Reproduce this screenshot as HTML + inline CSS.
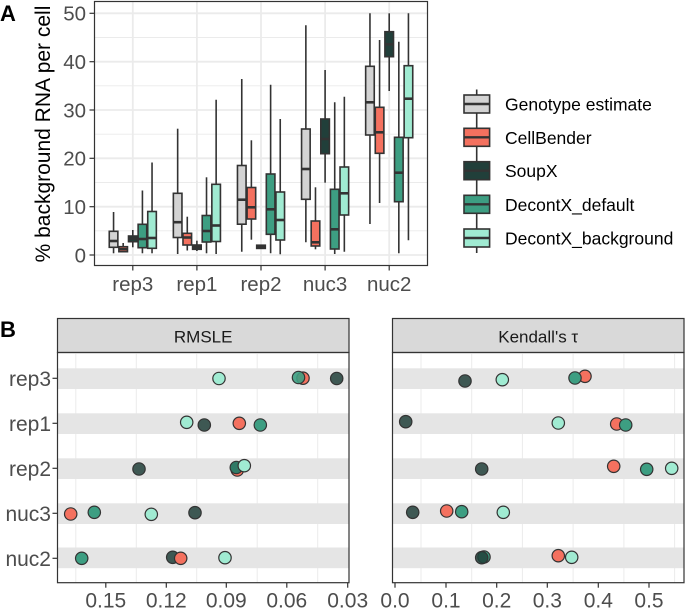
<!DOCTYPE html>
<html><head><meta charset="utf-8"><style>
html,body{margin:0;padding:0;background:#fff;}
svg{display:block;font-family:"Liberation Sans",Arial,sans-serif;}
</style></head><body>
<svg width="685" height="609" viewBox="0 0 685 609" xmlns="http://www.w3.org/2000/svg">
<rect width="685" height="609" fill="#fff"/>
<!-- Panel A -->
<text x="0" y="21" font-size="22" font-weight="bold" fill="#000">A</text>
<text transform="translate(50,134) rotate(-90)" text-anchor="middle" font-size="21" fill="#000">% background RNA per cell</text>
<g stroke="#ebebeb">
<line x1="94.5" x2="427.5" y1="230.8" y2="230.8" stroke-width="0.9"/>
<line x1="94.5" x2="427.5" y1="182.5" y2="182.5" stroke-width="0.9"/>
<line x1="94.5" x2="427.5" y1="134.2" y2="134.2" stroke-width="0.9"/>
<line x1="94.5" x2="427.5" y1="85.8" y2="85.8" stroke-width="0.9"/>
<line x1="94.5" x2="427.5" y1="37.5" y2="37.5" stroke-width="0.9"/>
<line x1="94.5" x2="427.5" y1="255" y2="255" stroke-width="1.8"/>
<line x1="94.5" x2="427.5" y1="206.7" y2="206.7" stroke-width="1.8"/>
<line x1="94.5" x2="427.5" y1="158.3" y2="158.3" stroke-width="1.8"/>
<line x1="94.5" x2="427.5" y1="110" y2="110" stroke-width="1.8"/>
<line x1="94.5" x2="427.5" y1="61.7" y2="61.7" stroke-width="1.8"/>
<line x1="94.5" x2="427.5" y1="13.3" y2="13.3" stroke-width="1.8"/>
<line y1="1.5" y2="265.5" x1="132.8" x2="132.8" stroke-width="1.8"/>
<line y1="1.5" y2="265.5" x1="196.9" x2="196.9" stroke-width="1.8"/>
<line y1="1.5" y2="265.5" x1="261" x2="261" stroke-width="1.8"/>
<line y1="1.5" y2="265.5" x1="325.1" x2="325.1" stroke-width="1.8"/>
<line y1="1.5" y2="265.5" x1="389.2" x2="389.2" stroke-width="1.8"/>
</g>
<g stroke="#333" stroke-width="1.6">
<!-- whiskers -->
<line x1="113.56" x2="113.56" y1="212" y2="253.3"/>
<line x1="123.18" x2="123.18" y1="243" y2="252.5"/>
<line x1="132.8" x2="132.8" y1="230" y2="247.3"/>
<line x1="142.42" x2="142.42" y1="190.5" y2="253.3"/>
<line x1="152.04" x2="152.04" y1="162.5" y2="253.3"/>
<line x1="177.66" x2="177.66" y1="128.7" y2="254"/>
<line x1="187.28" x2="187.28" y1="216.7" y2="250.5"/>
<line x1="196.9" x2="196.9" y1="240.7" y2="251"/>
<line x1="206.52" x2="206.52" y1="177.3" y2="253.3"/>
<line x1="216.14" x2="216.14" y1="99.7" y2="254"/>
<line x1="241.76" x2="241.76" y1="79" y2="251.7"/>
<line x1="251.38" x2="251.38" y1="140.3" y2="239.7"/>
<line x1="261" x2="261" y1="244.6" y2="249"/>
<line x1="270.62" x2="270.62" y1="84.7" y2="253.3"/>
<line x1="280.24" x2="280.24" y1="119" y2="254.3"/>
<line x1="305.86" x2="305.86" y1="25.3" y2="242.3"/>
<line x1="315.48" x2="315.48" y1="187.3" y2="249.3"/>
<line x1="325.1" x2="325.1" y1="70" y2="182.7"/>
<line x1="334.72" x2="334.72" y1="102.3" y2="254"/>
<line x1="344.34" x2="344.34" y1="96.7" y2="251.7"/>
<line x1="369.96" x2="369.96" y1="13.3" y2="224"/>
<line x1="379.58" x2="379.58" y1="40" y2="203"/>
<line x1="389.2" x2="389.2" y1="13.3" y2="91"/>
<line x1="398.82" x2="398.82" y1="41.7" y2="253.3"/>
<line x1="408.44" x2="408.44" y1="13.3" y2="240.3"/>
<!-- boxes -->
<rect x="109.26" y="231.3" width="8.6" height="16" fill="#d3d3d3"/>
<rect x="118.88" y="246.7" width="8.6" height="5" fill="#f4715f"/>
<rect x="128.5" y="236" width="8.6" height="5.7" fill="#213f3a"/>
<rect x="138.12" y="224.3" width="8.6" height="23.4" fill="#3d9e82"/>
<rect x="147.74" y="211.5" width="8.6" height="36.8" fill="#a0ebd2"/>
<rect x="173.36" y="193.3" width="8.6" height="44.2" fill="#d3d3d3"/>
<rect x="182.98" y="233.3" width="8.6" height="11.7" fill="#f4715f"/>
<rect x="192.6" y="245" width="8.6" height="4.3" fill="#213f3a"/>
<rect x="202.22" y="215.5" width="8.6" height="26.5" fill="#3d9e82"/>
<rect x="211.84" y="184.3" width="8.6" height="57.2" fill="#a0ebd2"/>
<rect x="237.46" y="165.5" width="8.6" height="58.7" fill="#d3d3d3"/>
<rect x="247.08" y="187.5" width="8.6" height="31.5" fill="#f4715f"/>
<rect x="256.7" y="245.2" width="8.6" height="3.2" fill="#213f3a"/>
<rect x="266.32" y="174" width="8.6" height="60.3" fill="#3d9e82"/>
<rect x="275.94" y="192" width="8.6" height="48" fill="#a0ebd2"/>
<rect x="301.56" y="129" width="8.6" height="70.3" fill="#d3d3d3"/>
<rect x="311.18" y="221" width="8.6" height="25" fill="#f4715f"/>
<rect x="320.8" y="119" width="8.6" height="34.7" fill="#213f3a"/>
<rect x="330.42" y="189.3" width="8.6" height="59.7" fill="#3d9e82"/>
<rect x="340.04" y="167" width="8.6" height="48" fill="#a0ebd2"/>
<rect x="365.66" y="66.3" width="8.6" height="68.7" fill="#d3d3d3"/>
<rect x="375.28" y="107.3" width="8.6" height="46" fill="#f4715f"/>
<rect x="384.9" y="31.7" width="8.6" height="25" fill="#213f3a"/>
<rect x="394.52" y="137.3" width="8.6" height="64.4" fill="#3d9e82"/>
<rect x="404.14" y="65.7" width="8.6" height="72" fill="#a0ebd2"/>
</g>
<g stroke="#333" stroke-width="2.6">
<line x1="109.26" x2="117.86" y1="241" y2="241"/>
<line x1="118.88" x2="127.48" y1="249.2" y2="249.2"/>
<line x1="128.5" x2="137.1" y1="238.5" y2="238.5"/>
<line x1="138.12" x2="146.72" y1="239" y2="239"/>
<line x1="147.74" x2="156.34" y1="238" y2="238"/>
<line x1="173.36" x2="181.96" y1="222.2" y2="222.2"/>
<line x1="182.98" x2="191.58" y1="237.5" y2="237.5"/>
<line x1="192.6" x2="201.2" y1="247" y2="247"/>
<line x1="202.22" x2="210.82" y1="231" y2="231"/>
<line x1="211.84" x2="220.44" y1="225.5" y2="225.5"/>
<line x1="237.46" x2="246.06" y1="199.7" y2="199.7"/>
<line x1="247.08" x2="255.68" y1="207.3" y2="207.3"/>
<line x1="256.7" x2="265.3" y1="246.8" y2="246.8"/>
<line x1="266.32" x2="274.92" y1="209.3" y2="209.3"/>
<line x1="275.94" x2="284.54" y1="220" y2="220"/>
<line x1="301.56" x2="310.16" y1="169" y2="169"/>
<line x1="311.18" x2="319.78" y1="242.3" y2="242.3"/>
<line x1="320.8" x2="329.4" y1="139" y2="139"/>
<line x1="330.42" x2="339.02" y1="229.3" y2="229.3"/>
<line x1="340.04" x2="348.64" y1="193.3" y2="193.3"/>
<line x1="365.66" x2="374.26" y1="102.3" y2="102.3"/>
<line x1="375.28" x2="383.88" y1="132.3" y2="132.3"/>
<line x1="384.9" x2="393.5" y1="44.3" y2="44.3"/>
<line x1="394.52" x2="403.12" y1="172.7" y2="172.7"/>
<line x1="404.14" x2="412.74" y1="98.7" y2="98.7"/>
</g>
<rect x="94.5" y="1.5" width="333" height="264" fill="none" stroke="#333" stroke-width="1.2"/>
<g stroke="#333" stroke-width="1.2">
<line x1="89.5" x2="94.5" y1="255" y2="255"/>
<line x1="89.5" x2="94.5" y1="206.7" y2="206.7"/>
<line x1="89.5" x2="94.5" y1="158.3" y2="158.3"/>
<line x1="89.5" x2="94.5" y1="110" y2="110"/>
<line x1="89.5" x2="94.5" y1="61.7" y2="61.7"/>
<line x1="89.5" x2="94.5" y1="13.3" y2="13.3"/>
<line y1="265.5" y2="270.5" x1="132.8" x2="132.8"/>
<line y1="265.5" y2="270.5" x1="196.9" x2="196.9"/>
<line y1="265.5" y2="270.5" x1="261" x2="261"/>
<line y1="265.5" y2="270.5" x1="325.1" x2="325.1"/>
<line y1="265.5" y2="270.5" x1="389.2" x2="389.2"/>
</g>
<g font-size="20.5" fill="#4d4d4d" text-anchor="end">
<text x="86" y="262.3">0</text>
<text x="86" y="214">10</text>
<text x="86" y="165.6">20</text>
<text x="86" y="117.3">30</text>
<text x="86" y="69">40</text>
<text x="86" y="20.6">50</text>
</g>
<g font-size="20.5" fill="#4d4d4d" text-anchor="middle">
<text x="132.8" y="291">rep3</text>
<text x="196.9" y="291">rep1</text>
<text x="261" y="291">rep2</text>
<text x="325.1" y="291">nuc3</text>
<text x="389.2" y="291">nuc2</text>
</g>
<!-- Legend -->
<line x1="476.7" x2="476.7" y1="89.5" y2="253" stroke="#333" stroke-width="1.6"/>
<g stroke="#333" stroke-width="1.6">
<rect x="464" y="95" width="25.6" height="18" fill="#d3d3d3"/>
<rect x="464" y="128.3" width="25.6" height="18" fill="#f4715f"/>
<rect x="464" y="161.7" width="25.6" height="18" fill="#213f3a"/>
<rect x="464" y="195.3" width="25.6" height="18" fill="#3d9e82"/>
<rect x="464" y="229" width="25.6" height="18" fill="#a0ebd2"/>
</g>
<g stroke="#333" stroke-width="2.4">
<line x1="464" x2="489.6" y1="104" y2="104"/>
<line x1="464" x2="489.6" y1="137.3" y2="137.3"/>
<line x1="464" x2="489.6" y1="170.7" y2="170.7"/>
<line x1="464" x2="489.6" y1="204.3" y2="204.3"/>
<line x1="464" x2="489.6" y1="238" y2="238"/>
</g>
<g font-size="17.5" fill="#000">
<text x="505" y="110.5">Genotype estimate</text>
<text x="505" y="143.8">CellBender</text>
<text x="505" y="177.2">SoupX</text>
<text x="505" y="210.8">DecontX_default</text>
<text x="505" y="244.5">DecontX_background</text>
</g>

<!-- Panel B -->
<text x="0" y="337" font-size="22" font-weight="bold" fill="#000">B</text>
<!-- strips -->
<rect x="57.5" y="318.5" width="291.5" height="34" fill="#d9d9d9" stroke="#333" stroke-width="1.2"/>
<rect x="392.5" y="318.5" width="291.5" height="34" fill="#d9d9d9" stroke="#333" stroke-width="1.2"/>
<text x="203.2" y="342.3" font-size="17" fill="#1a1a1a" text-anchor="middle">RMSLE</text>
<text x="538.2" y="342.3" font-size="17" fill="#1a1a1a" text-anchor="middle">Kendall's τ</text>
<!-- grid -->
<g stroke="#ebebeb" stroke-width="1">
<line y1="352.5" y2="582.7" x1="75.8" x2="75.8"/>
<line y1="352.5" y2="582.7" x1="136.3" x2="136.3"/>
<line y1="352.5" y2="582.7" x1="196.7" x2="196.7"/>
<line y1="352.5" y2="582.7" x1="257.2" x2="257.2"/>
<line y1="352.5" y2="582.7" x1="317.7" x2="317.7"/>
<line y1="352.5" y2="582.7" x1="421" x2="421"/>
<line y1="352.5" y2="582.7" x1="471.7" x2="471.7"/>
<line y1="352.5" y2="582.7" x1="522.4" x2="522.4"/>
<line y1="352.5" y2="582.7" x1="573.1" x2="573.1"/>
<line y1="352.5" y2="582.7" x1="623.9" x2="623.9"/>
<line y1="352.5" y2="582.7" x1="674.6" x2="674.6"/>
</g>
<!-- bands -->
<g fill="#e5e5e5">
<rect x="57.5" width="291.5" y="368.3" height="20.7"/>
<rect x="57.5" width="291.5" y="413.3" height="20.7"/>
<rect x="57.5" width="291.5" y="458.3" height="20.7"/>
<rect x="57.5" width="291.5" y="503.3" height="20.7"/>
<rect x="57.5" width="291.5" y="547.5" height="20.7"/>
<rect x="392.5" width="291.5" y="368.3" height="20.7"/>
<rect x="392.5" width="291.5" y="413.3" height="20.7"/>
<rect x="392.5" width="291.5" y="458.3" height="20.7"/>
<rect x="392.5" width="291.5" y="503.3" height="20.7"/>
<rect x="392.5" width="291.5" y="547.5" height="20.7"/>
</g>
<!-- points left -->
<g stroke="#333" stroke-width="1.2">
<circle cx="303" cy="378.2" r="6.2" fill="#f4715f"/>
<circle cx="336.7" cy="378.5" r="6.2" fill="#213f3a" fill-opacity="0.85"/>
<circle cx="298.5" cy="377.5" r="6.2" fill="#3d9e82" fill-opacity="0.9"/>
<circle cx="219" cy="378.5" r="6.2" fill="#a0ebd2"/>

<circle cx="239.3" cy="423.3" r="6.2" fill="#f4715f"/>
<circle cx="204.3" cy="425" r="6.2" fill="#213f3a" fill-opacity="0.85"/>
<circle cx="260.3" cy="425" r="6.2" fill="#3d9e82"/>
<circle cx="186.7" cy="422.3" r="6.2" fill="#a0ebd2"/>

<circle cx="237.3" cy="470" r="6.2" fill="#f4715f"/>
<circle cx="139" cy="469" r="6.2" fill="#213f3a" fill-opacity="0.85"/>
<circle cx="236.3" cy="467.5" r="6.2" fill="#2f7a66"/>
<circle cx="244.3" cy="465.7" r="6.2" fill="#a0ebd2"/>

<circle cx="70.7" cy="514" r="6.2" fill="#f4715f"/>
<circle cx="195" cy="512.7" r="6.2" fill="#213f3a" fill-opacity="0.85"/>
<circle cx="94.3" cy="512.3" r="6.2" fill="#3d9e82"/>
<circle cx="151.3" cy="514.3" r="6.2" fill="#a0ebd2"/>

<circle cx="172.7" cy="557.3" r="6.2" fill="#213f3a" fill-opacity="0.85"/>
<circle cx="180.7" cy="558.3" r="6.2" fill="#f4715f"/>
<circle cx="81.7" cy="558.3" r="6.2" fill="#3d9e82"/>
<circle cx="225" cy="557.7" r="6.2" fill="#a0ebd2"/>
</g>
<!-- points right -->
<g stroke="#333" stroke-width="1.2">
<circle cx="585" cy="376.3" r="6.2" fill="#f4715f"/>
<circle cx="465" cy="381" r="6.2" fill="#213f3a" fill-opacity="0.85"/>
<circle cx="575" cy="378" r="6.2" fill="#3d9e82"/>
<circle cx="502.3" cy="379.7" r="6.2" fill="#a0ebd2"/>

<circle cx="616.7" cy="424" r="6.2" fill="#f4715f"/>
<circle cx="405.7" cy="421.7" r="6.2" fill="#213f3a" fill-opacity="0.85"/>
<circle cx="625.7" cy="425" r="6.2" fill="#3d9e82"/>
<circle cx="558.3" cy="423" r="6.2" fill="#a0ebd2"/>

<circle cx="613.7" cy="466.3" r="6.2" fill="#f4715f"/>
<circle cx="481.7" cy="469" r="6.2" fill="#213f3a" fill-opacity="0.85"/>
<circle cx="646.7" cy="469.3" r="6.2" fill="#3d9e82"/>
<circle cx="671.7" cy="468.3" r="6.2" fill="#a0ebd2"/>

<circle cx="446.7" cy="511" r="6.2" fill="#f4715f"/>
<circle cx="412.7" cy="512.3" r="6.2" fill="#213f3a" fill-opacity="0.85"/>
<circle cx="461.7" cy="511.7" r="6.2" fill="#3d9e82"/>
<circle cx="503.3" cy="512.3" r="6.2" fill="#a0ebd2"/>

<circle cx="484" cy="557" r="6.2" fill="#3d9e82"/>
<circle cx="481.7" cy="557.7" r="6.2" fill="#213f3a" fill-opacity="0.85"/>
<circle cx="558.3" cy="555.7" r="6.2" fill="#f4715f"/>
<circle cx="571.7" cy="557.3" r="6.2" fill="#a0ebd2"/>
</g>
<!-- panel borders -->
<rect x="57.5" y="352.5" width="291.5" height="230.2" fill="none" stroke="#333" stroke-width="1.2"/>
<rect x="392.5" y="352.5" width="291.5" height="230.2" fill="none" stroke="#333" stroke-width="1.2"/>
<!-- ticks -->
<g stroke="#333" stroke-width="1.2">
<line x1="52.5" x2="57.5" y1="378.3" y2="378.3"/>
<line x1="52.5" x2="57.5" y1="423.3" y2="423.3"/>
<line x1="52.5" x2="57.5" y1="468.3" y2="468.3"/>
<line x1="52.5" x2="57.5" y1="513.3" y2="513.3"/>
<line x1="52.5" x2="57.5" y1="558.3" y2="558.3"/>
<line y1="582.7" y2="587.7" x1="105.8" x2="105.8"/>
<line y1="582.7" y2="587.7" x1="166.3" x2="166.3"/>
<line y1="582.7" y2="587.7" x1="226.3" x2="226.3"/>
<line y1="582.7" y2="587.7" x1="286.8" x2="286.8"/>
<line y1="582.7" y2="587.7" x1="347.7" x2="347.7"/>
<line y1="582.7" y2="587.7" x1="395" x2="395"/>
<line y1="582.7" y2="587.7" x1="446" x2="446"/>
<line y1="582.7" y2="587.7" x1="496.7" x2="496.7"/>
<line y1="582.7" y2="587.7" x1="547.3" x2="547.3"/>
<line y1="582.7" y2="587.7" x1="598.3" x2="598.3"/>
<line y1="582.7" y2="587.7" x1="649" x2="649"/>
</g>
<g font-size="21" fill="#4d4d4d" text-anchor="end">
<text x="51" y="385.8">rep3</text>
<text x="51" y="430.8">rep1</text>
<text x="51" y="475.8">rep2</text>
<text x="51" y="520.8">nuc3</text>
<text x="51" y="565.8">nuc2</text>
</g>
<g font-size="21" fill="#4d4d4d" text-anchor="middle">
<text x="105.8" y="607.5">0.15</text>
<text x="166.3" y="607.5">0.12</text>
<text x="226.3" y="607.5">0.09</text>
<text x="286.8" y="607.5">0.06</text>
<text x="347.7" y="607.5">0.03</text>
<text x="395" y="607.5">0.0</text>
<text x="446" y="607.5">0.1</text>
<text x="496.7" y="607.5">0.2</text>
<text x="547.3" y="607.5">0.3</text>
<text x="598.3" y="607.5">0.4</text>
<text x="649" y="607.5">0.5</text>
</g>
</svg>
</body></html>
